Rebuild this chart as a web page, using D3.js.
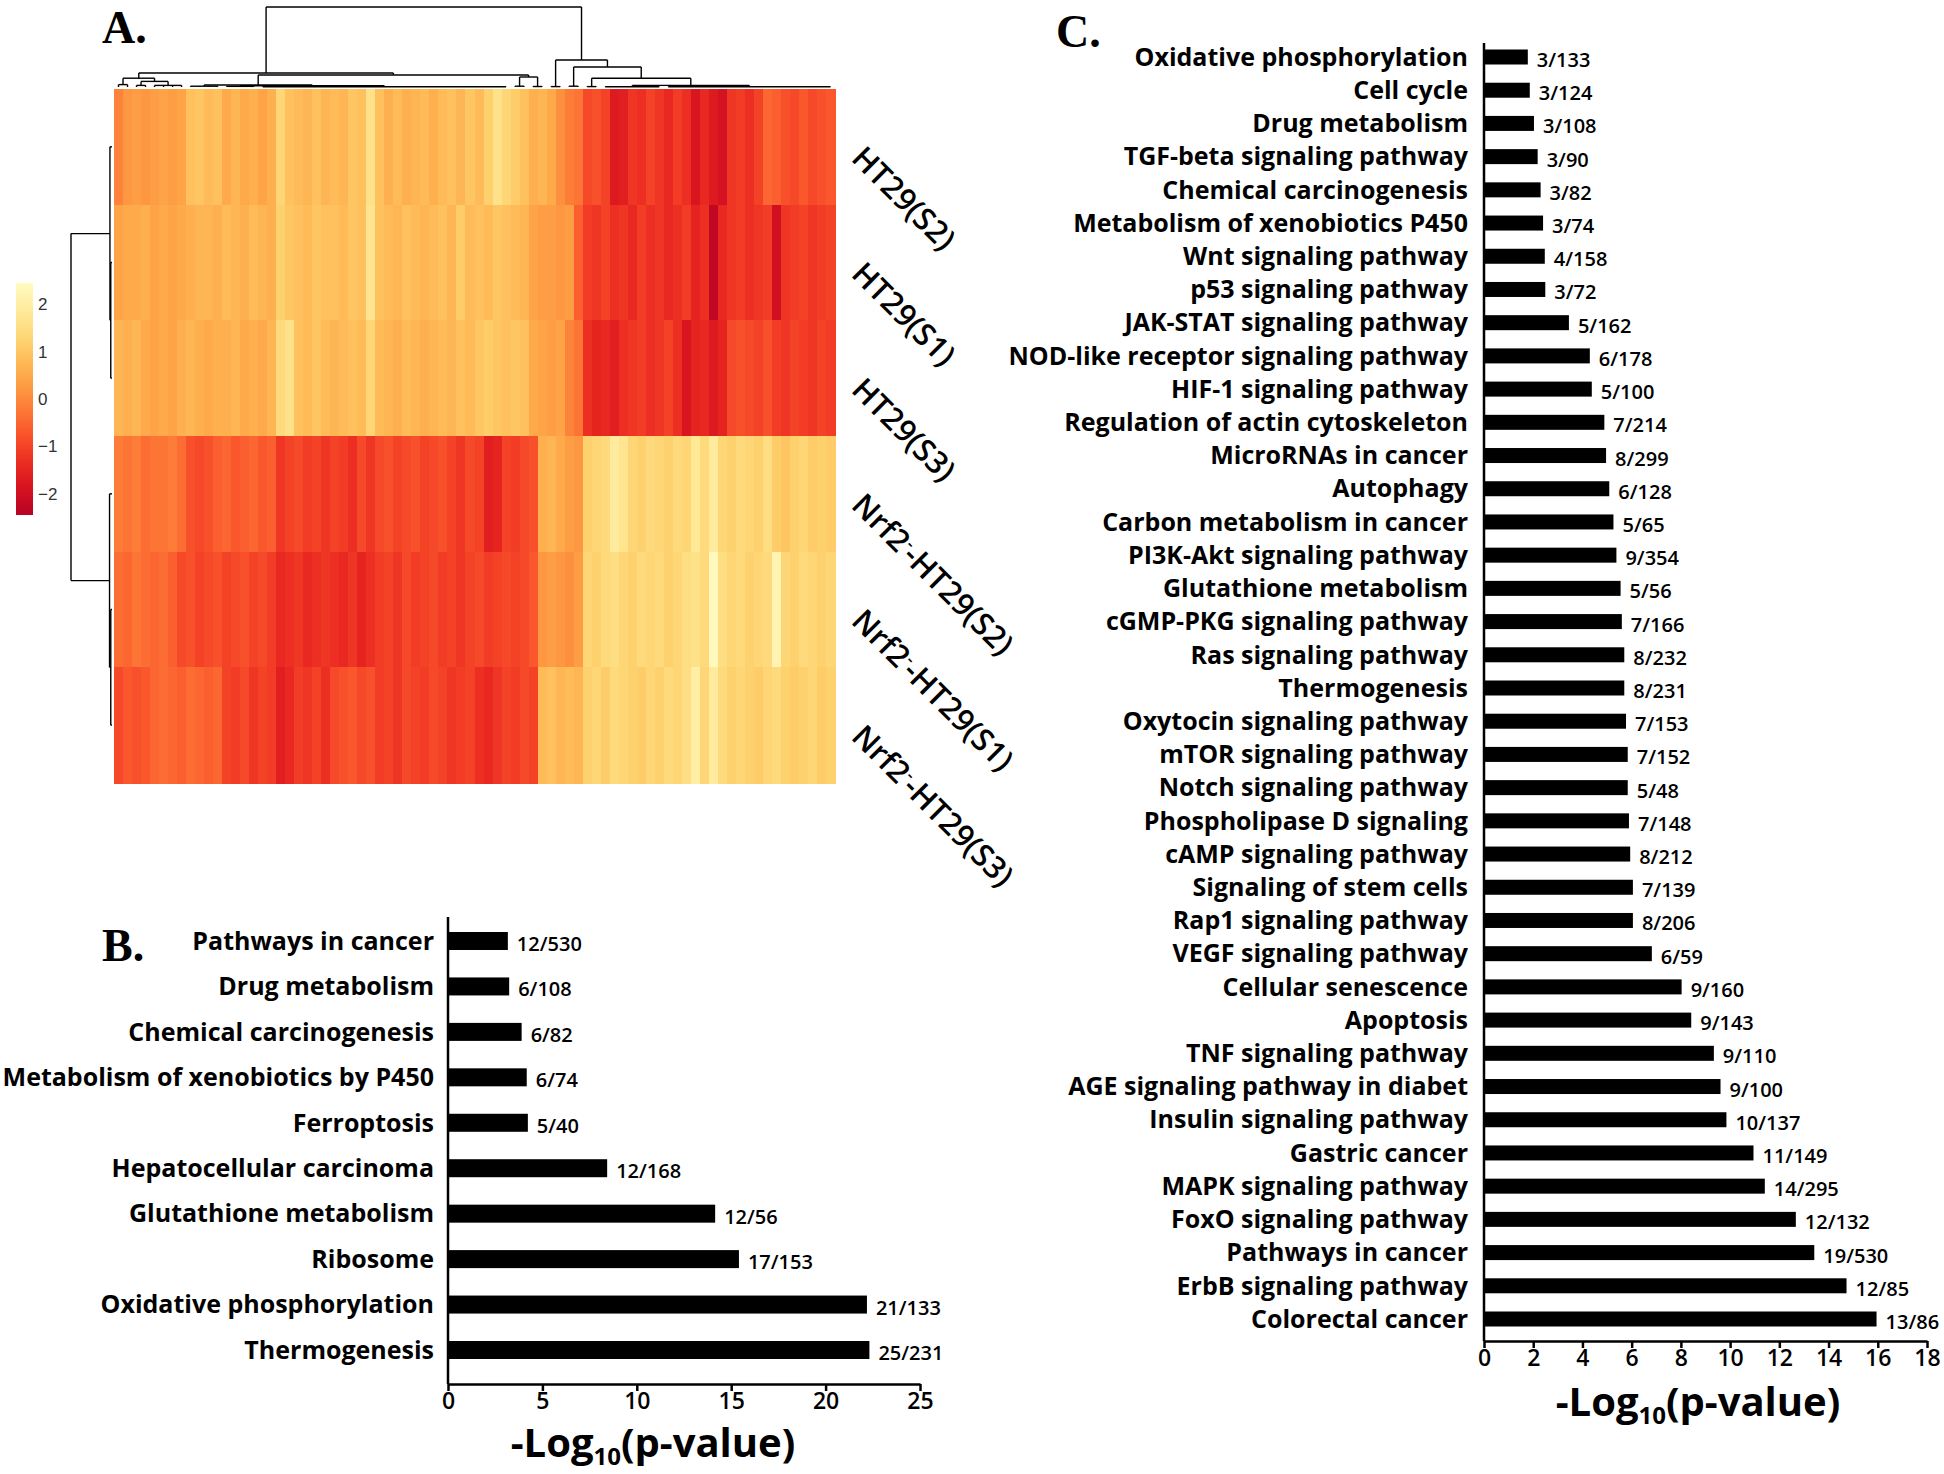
<!DOCTYPE html>
<html>
<head>
<meta charset="utf-8">
<script src="https://cdn.jsdelivr.net/npm/d3@7"></script>
<style>
  body { margin: 0; background: #fff; }
  text { font-family: "Open Sans", sans-serif; }
</style>
</head>
<body>
<svg id="fig"></svg>
<script>
var W = 1944, H = 1474;

// ---------- panel A : heatmap ----------
var samples = ["HT29(S2)", "HT29(S1)", "HT29(S3)", "Nrf2⁻-HT29(S2)", "Nrf2⁻-HT29(S1)", "Nrf2⁻-HT29(S3)"];

var ht29S2 = [-0.1,0.2,0.3,0.2,0.3,0.4,0.3,0.4,0.9,1.0, 0.8,0.9,0.5,0.7,0.5,0.6,0.4,0.6,1.3,0.9,
              0.8,0.7,0.9,0.7,0.8,0.7,1.0,0.9,1.6,0.9, 0.6,0.8,0.6,0.7,0.8,0.6,0.8,0.9,0.7,1.0,
              0.8,1.2,1.6,1.3,1.1,0.9,0.6,0.7,0.5,0.1, -0.2,-0.3,-0.9,-0.8,-1.0,-1.7,-1.6,-1.2,-1.3,-1.0,
              -1.2,-1.4,-1.1,-1.3,-1.8,-1.4,-1.7,-1.9,-1.2,-1.1, -1.3,-1.0,-0.5,-0.6,-0.8,-0.9,-0.7,-0.9,-0.8,-0.7];
var ht29S1 = [0.4,0.5,0.5,0.6,0.4,0.5,0.4,0.5,0.6,0.7, 0.7,0.6,0.8,0.7,0.6,0.8,0.7,0.6,1.2,1.0,
              0.9,0.8,1.0,0.9,0.9,0.8,1.0,0.9,1.7,0.9, 0.8,0.7,0.9,0.8,0.7,0.8,0.9,0.7,1.1,0.8,
              0.9,0.8,1.0,0.9,0.8,0.7,0.4,0.3,0.3,0.2, 0.3,-0.6,-1.1,-1.2,-1.0,-1.3,-1.2,-1.4,-1.1,-1.3,
              -1.2,-1.4,-1.3,-1.1,-1.5,-1.3,-2.3,-1.4,-1.2,-1.1, -1.3,-1.2,-1.1,-2.0,-1.2,-1.1,-1.0,-1.2,-1.1,-1.0];
var ht29S3 = [0.7,0.6,0.7,0.5,0.4,0.5,0.4,0.6,0.7,0.6, 0.5,0.6,0.6,0.7,0.5,0.6,0.5,0.7,1.4,1.6,
              0.9,0.8,1.0,0.8,0.7,0.8,0.9,0.8,1.3,0.8, 0.7,0.6,0.8,0.7,0.6,0.7,0.8,0.7,0.9,0.8,
              1.0,1.1,1.0,0.9,1.0,0.9,0.5,0.4,0.3,0.4, -0.1,-0.3,-1.3,-1.5,-1.4,-1.6,-1.3,-1.2,-1.1,-1.3,
              -1.2,-1.0,-1.3,-1.8,-1.5,-1.4,-1.7,-1.5,-0.9,-0.8, -0.9,-1.0,-0.8,-1.1,-1.2,-1.0,-1.1,-1.2,-1.0,-1.1];
var nrfS2 = [-0.2,-0.3,-0.2,-0.4,-0.3,-0.3,-0.2,-0.4,-0.8,-0.9, -0.8,-0.6,-0.5,-0.7,-0.6,-0.5,-0.7,-0.6,-1.2,-1.0,
             -0.9,-1.1,-1.0,-1.2,-1.0,-1.1,-1.3,-0.9,-1.2,-0.9, -0.8,-1.0,-0.9,-0.8,-1.0,-0.9,-0.8,-1.0,-1.2,-0.9,
             -1.0,-1.6,-1.5,-1.0,-1.1,-0.9,-0.8,0.6,0.7,0.5, 0.3,0.2,1.2,1.3,1.4,1.9,1.7,1.3,1.2,1.4,
             1.3,1.2,1.4,1.3,1.8,1.4,1.9,1.3,1.2,1.4, 1.3,1.2,1.5,1.1,1.0,1.2,1.3,1.1,1.2,1.1];
var nrfS1 = [-0.4,-0.5,-0.3,-0.4,-0.5,-0.4,-0.6,-0.9,-0.8,-1.0, -0.9,-0.8,-1.0,-0.9,-0.8,-1.0,-0.9,-1.1,-1.4,-1.3,
             -1.2,-1.4,-1.3,-1.2,-1.3,-1.4,-1.2,-1.5,-1.3,-1.1, -1.0,-1.2,-0.9,-1.1,-1.0,-0.9,-1.1,-1.0,-1.2,-1.0,
             -0.9,-1.1,-1.0,-0.9,-1.0,-0.9,-0.7,0.2,0.3,0.2, 0.1,0.3,1.3,1.2,1.4,1.5,1.3,1.2,1.4,1.3,
             1.4,1.2,1.3,1.5,1.6,1.4,2.4,1.5,1.3,1.4, 1.2,1.3,1.4,2.2,1.3,1.2,1.4,1.3,1.2,1.3];
var nrfS3 = [-0.9,-0.7,-0.8,-0.7,-0.5,-0.4,-0.5,-0.6,-0.4,-0.5, -0.6,-0.5,-1.0,-1.1,-0.9,-1.2,-1.0,-1.1,-1.6,-1.4,
             -1.1,-1.2,-1.0,-1.3,-0.9,-0.8,-0.7,-0.9,-0.8,-1.1, -1.0,-1.2,-0.9,-1.0,-1.1,-0.9,-1.0,-1.2,-1.1,-1.0,
             -1.3,-1.4,-1.2,-1.0,-1.1,-0.9,-1.0,0.8,0.9,0.7, 0.8,0.7,1.2,1.3,1.1,1.4,1.3,1.2,1.1,1.3,
             1.2,1.4,1.3,1.5,2.0,1.3,1.9,1.4,1.2,1.3, 1.2,1.1,1.3,1.4,1.2,1.1,1.2,1.3,1.1,1.2];
var matrix = [ht29S2, ht29S1, ht29S3, nrfS2, nrfS1, nrfS3];

var legendTicks = [2, 1, 0, -1, -2];

// row clustering (leaves = row index)
var rowTree = {h: 10, c: [
  {h: 0.5, c: [0, {h: 0.3, c: [1, 2]}]},
  {h: 0.6, c: [3, {h: 0.3, c: [4, 5]}]}
]};

// column clustering (g = flat group of column indices)
var colTree = {h: 100, c: [
  {h: 17.5, c: [
    {h: 11, c: [
      {g: [0, 1], h: 3},
      {h: 7, c: [{g: [2, 3], h: 2}, {g: [4, 7], h: 2}]}
    ]},
    {h: 15, c: [
      {h: 2.5, c: [
        {g: [8, 11], h: 1},
        {h: 1.5, c: [{g: [12, 15], h: 0.8}, {g: [16, 43], h: 0.3}]}
      ]},
      {h: 12.5, c: [{g: [44, 45], h: 1}, {g: [46, 47], h: 0.6}]}
    ]}
  ]},
  {h: 33.75, c: [
    {g: [48, 49], h: 0.5},
    {h: 25, c: [
      {g: [50, 51], h: 1},
      {h: 11, c: [
        {g: [52, 53], h: 0.5},
        {h: 2, c: [{g: [54, 60], h: 0.4}, {g: [61, 79], h: 0.3}]}
      ]}
    ]}
  ]}
]};

// ---------- panel B ----------
var bCategories = ["Pathways in cancer", "Drug metabolism", "Chemical carcinogenesis",
  "Metabolism of xenobiotics by P450", "Ferroptosis", "Hepatocellular carcinoma",
  "Glutathione metabolism", "Ribosome", "Oxidative phosphorylation", "Thermogenesis"];
var bValues = [3.17, 3.24, 3.90, 4.17, 4.23, 8.43, 14.15, 15.41, 22.19, 22.32];
var bCounts = ["12/530", "6/108", "6/82", "6/74", "5/40", "12/168", "12/56", "17/153", "21/133", "25/231"];
var bTicks = [0, 5, 10, 15, 20, 25];

// ---------- panel C ----------
var cCategories = ["Oxidative phosphorylation", "Cell cycle", "Drug metabolism",
  "TGF-beta signaling pathway", "Chemical carcinogenesis", "Metabolism of xenobiotics P450",
  "Wnt signaling pathway", "p53 signaling pathway", "JAK-STAT signaling pathway",
  "NOD-like receptor signaling pathway", "HIF-1 signaling pathway", "Regulation of actin cytoskeleton",
  "MicroRNAs in cancer", "Autophagy", "Carbon metabolism in cancer", "PI3K-Akt signaling pathway",
  "Glutathione metabolism", "cGMP-PKG signaling pathway", "Ras signaling pathway", "Thermogenesis",
  "Oxytocin signaling pathway", "mTOR signaling pathway", "Notch signaling pathway",
  "Phospholipase D signaling", "cAMP signaling pathway", "Signaling of stem cells",
  "Rap1 signaling pathway", "VEGF signaling pathway", "Cellular senescence", "Apoptosis",
  "TNF signaling pathway", "AGE signaling pathway in diabet", "Insulin signaling pathway",
  "Gastric cancer", "MAPK signaling pathway", "FoxO signaling pathway", "Pathways in cancer",
  "ErbB signaling pathway", "Colorectal cancer"];
var cValues = [1.78, 1.86, 2.03, 2.18, 2.30, 2.40, 2.47, 2.49, 3.45, 4.30, 4.38, 4.89, 4.96,
  5.09, 5.26, 5.38, 5.55, 5.60, 5.70, 5.70, 5.77, 5.84, 5.84, 5.89, 5.94, 6.05, 6.05, 6.82,
  8.03, 8.42, 9.34, 9.61, 9.85, 10.95, 11.41, 12.67, 13.42, 14.73, 15.95];
var cCounts = ["3/133", "3/124", "3/108", "3/90", "3/82", "3/74", "4/158", "3/72", "5/162",
  "6/178", "5/100", "7/214", "8/299", "6/128", "5/65", "9/354", "5/56", "7/166", "8/232",
  "8/231", "7/153", "7/152", "5/48", "7/148", "8/212", "7/139", "8/206", "6/59", "9/160",
  "9/143", "9/110", "9/100", "10/137", "11/149", "14/295", "12/132", "19/530", "12/85", "13/86"];
var cTicks = [0, 2, 4, 6, 8, 10, 12, 14, 16, 18];

var svg = d3.select("#fig").attr("width", W).attr("height", H);
svg.append("rect").attr("width", W).attr("height", H).attr("fill", "#fff");

var ink = 2.5;

// ================= heatmap =================
var nCol = ht29S2.length;
var hx = d3.scaleBand().domain(d3.range(nCol)).range([114, 835]);
var hy = d3.scaleBand().domain(d3.range(samples.length)).range([89, 783]);
var tOf = d3.scaleLinear().domain([-2.45, 0, 2.45]).range([0.88, 0.5, 0.03]);
function heat(v) { return d3.interpolateYlOrRd(tOf(v)); }

var cells = [];
matrix.forEach(function(row, r) {
  row.forEach(function(v, c) { cells.push({r: r, c: c, v: v}); });
});

svg.append("g").attr("shape-rendering", "crispEdges")
  .selectAll("rect").data(cells).enter().append("rect")
  .attr("x", function(d) { return hx(d.c); })
  .attr("y", function(d) { return hy(d.r); })
  .attr("width", hx.bandwidth() + 0.6)
  .attr("height", hy.bandwidth() + 0.6)
  .attr("fill", function(d) { return heat(d.v); });

// column dendrogram
var dcY = d3.scaleLinear().domain([0, 100]).range([87, 7]);
function colMid(i) { return hx(i) + hx.bandwidth() / 2; }
function placeCol(n) {
  if (n.g) { n.x = (colMid(n.g[0]) + colMid(n.g[1])) / 2; return; }
  n.c.forEach(placeCol);
  n.x = (n.c[0].x + n.c[1].x) / 2;
}
placeCol(colTree);

var dendro = svg.append("g").attr("stroke", "#000").attr("stroke-width", 1.4).attr("fill", "none");
function drawCol(n) {
  if (n.g) {
    dendro.append("line").attr("x1", colMid(n.g[0])).attr("x2", colMid(n.g[1]))
      .attr("y1", dcY(n.h)).attr("y2", dcY(n.h));
    d3.range(n.g[0], n.g[1] + 1).forEach(function(i) {
      dendro.append("line").attr("x1", colMid(i)).attr("x2", colMid(i))
        .attr("y1", dcY(0)).attr("y2", dcY(n.h));
    });
    return;
  }
  dendro.append("line").attr("x1", n.c[0].x).attr("x2", n.c[1].x)
    .attr("y1", dcY(n.h)).attr("y2", dcY(n.h));
  n.c.forEach(function(k) {
    dendro.append("line").attr("x1", k.x).attr("x2", k.x)
      .attr("y1", dcY(k.h)).attr("y2", dcY(n.h));
    drawCol(k);
  });
}
drawCol(colTree);

// row dendrogram
var drX = d3.scaleLinear().domain([0, 10]).range([112, 71]);
function rowMid(i) { return hy(i) + hy.bandwidth() / 2; }
function placeRow(n) {
  if (typeof n === "number") return {y: rowMid(n), h: 0};
  var a = placeRow(n.c[0]), b = placeRow(n.c[1]);
  dendro.append("line").attr("x1", drX(n.h)).attr("x2", drX(n.h)).attr("y1", a.y).attr("y2", b.y);
  [a, b].forEach(function(k) {
    dendro.append("line").attr("x1", drX(k.h)).attr("x2", drX(n.h)).attr("y1", k.y).attr("y2", k.y);
  });
  return {y: (a.y + b.y) / 2, h: n.h};
}
placeRow(rowTree);

// colour key
var ky = d3.scaleLinear().domain([-2.45, 2.45]).range([515, 283]);
var grad = svg.append("defs").append("linearGradient").attr("id", "key")
  .attr("x1", 0).attr("x2", 0).attr("y1", 1).attr("y2", 0);
d3.range(-2.45, 2.46, 0.245).forEach(function(v) {
  grad.append("stop").attr("offset", (v + 2.45) / 4.9).attr("stop-color", heat(v));
});
svg.append("rect").attr("x", 16).attr("y", ky(2.45)).attr("width", 17)
  .attr("height", ky(-2.45) - ky(2.45)).attr("fill", "url(#key)");
svg.selectAll("text.key").data(legendTicks).enter().append("text")
  .attr("class", "key")
  .attr("x", 38).attr("y", function(d) { return ky(d); }).attr("dy", "0.36em")
  .style("font-family", "Liberation Sans, Arial, sans-serif")
  .style("font-size", "17px").attr("fill", "#333")
  .text(d3.format("d"));

// sample labels
samples.forEach(function(s, i) {
  var t = svg.append("text")
    .attr("transform", "translate(850," + (rowMid(i) + 13) + ") rotate(45)")
    .style("font-size", "31px").style("font-weight", 600);
  var parts = s.split("⁻");
  t.append("tspan").text(parts[0]);
  if (parts.length > 1) {
    t.append("tspan").attr("baseline-shift", "super").style("font-size", "17px").text("-");
    t.append("tspan").text(parts[1]);
  }
});

// ================= bar panels =================
function barPanel(cats, vals, counts, ticks, o) {
  var x = d3.scaleLinear().domain([0, ticks[ticks.length - 1]]).range([o.x0, o.x1]);
  var y = d3.scalePoint().domain(cats).range([o.yFirst, o.yLast]);
  var g = svg.append("g");

  g.selectAll("rect").data(cats).enter().append("rect")
    .attr("x", x(0))
    .attr("y", function(d) { return y(d) - o.barH / 2; })
    .attr("width", function(d, i) { return x(vals[i]) - x(0); })
    .attr("height", o.barH)
    .attr("fill", "#000");

  g.selectAll("text.cat").data(cats).enter().append("text")
    .attr("class", "cat")
    .attr("x", o.labelX).attr("y", function(d) { return y(d); }).attr("dy", "0.35em")
    .attr("text-anchor", "end")
    .style("font-size", o.labelSize + "px").style("font-weight", 700)
    .text(function(d) { return d; });

  g.selectAll("text.cnt").data(cats).enter().append("text")
    .attr("class", "cnt")
    .attr("x", function(d, i) { return x(vals[i]) + 9; })
    .attr("y", function(d) { return y(d) + 3; }).attr("dy", "0.35em")
    .style("font-size", "20px").style("font-weight", 600)
    .text(function(d, i) { return counts[i]; });

  g.append("line").attr("x1", x(0)).attr("x2", x(0))
    .attr("y1", o.axisTop).attr("y2", o.axisY)
    .attr("stroke", "#000").attr("stroke-width", ink);

  var ax = g.append("g").attr("transform", "translate(0," + o.axisY + ")")
    .call(d3.axisBottom(x).tickValues(ticks).tickSize(7).tickPadding(2).tickSizeOuter(0));
  ax.select(".domain").attr("stroke-width", ink);
  ax.selectAll(".tick line").attr("stroke-width", ink);
  ax.selectAll(".tick text").attr("fill", "#000")
    .style("font-family", "Open Sans, sans-serif").style("font-size", "23px").style("font-weight", 600);

  var title = g.append("text").attr("x", o.titleX).attr("y", o.titleY)
    .attr("text-anchor", "middle").style("font-size", "40px").style("font-weight", 700);
  title.append("tspan").text("-Log");
  title.append("tspan").attr("baseline-shift", "-8px").style("font-size", "24px").text("10");
  title.append("tspan").attr("baseline-shift", "0").text("(p-value)");
}

barPanel(bCategories, bValues, bCounts, bTicks, {
  x0: 448, x1: 920, yFirst: 941, yLast: 1350, barH: 18,
  axisTop: 917, axisY: 1384, labelX: 434, labelSize: 25,
  titleX: 653, titleY: 1457
});

barPanel(cCategories, cValues, cCounts, cTicks, {
  x0: 1484, x1: 1927, yFirst: 57, yLast: 1319, barH: 15,
  axisTop: 43, axisY: 1341, labelX: 1468, labelSize: 25,
  titleX: 1698, titleY: 1416
});

// panel letters
[["A.", 102, 43], ["B.", 102, 961], ["C.", 1056, 47]].forEach(function(p) {
  svg.append("text").attr("x", p[1]).attr("y", p[2])
    .style("font-family", "Liberation Serif, Times New Roman, serif")
    .style("font-size", "46px").style("font-weight", 700)
    .text(p[0]);
});
</script>
</body>
</html>
